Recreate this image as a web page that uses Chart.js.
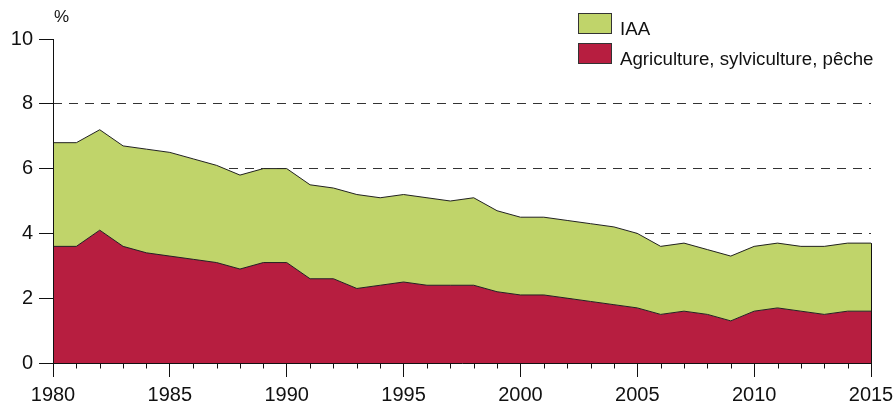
<!DOCTYPE html>
<html>
<head>
<meta charset="utf-8">
<title>Agriculture et IAA</title>
<script src="https://cdn.jsdelivr.net/npm/chart.js@4.4.1/dist/chart.umd.min.js"></script>
<style>
  html, body { margin: 0; padding: 0; background: #fff; }
  #wrap { position: relative; width: 896px; height: 408px; font-family: "Liberation Sans", Arial, sans-serif; color: #111; }
  #unit { position: absolute; left: 54px; top: 7px; font-size: 17px; }
  .leg { position: absolute; left: 578px; font-size: 18.7px; white-space: nowrap; }
  .leg span.box { position: absolute; left: 0; top: 0; width: 34px; height: 21px; border: 1px solid #333; box-sizing: border-box; }
  .leg span.txt { position: absolute; left: 42px; top: 5px; }
</style>
</head>
<body>
<div id="wrap">
  <canvas id="chart" width="896" height="408"></canvas>
  <div id="unit">%</div>
  <div class="leg" style="top:13px"><span class="box" style="background:#c0d46a"></span><span class="txt">IAA</span></div>
  <div class="leg" style="top:43px"><span class="box" style="background:#b71e40"></span><span class="txt">Agriculture, sylviculture, pêche</span></div>
</div>
<script>
const years = [1980, 1981, 1982, 1983, 1984, 1985, 1986, 1987, 1988, 1989,
               1990, 1991, 1992, 1993, 1994, 1995, 1996, 1997, 1998, 1999,
               2000, 2001, 2002, 2003, 2004, 2005, 2006, 2007, 2008, 2009,
               2010, 2011, 2012, 2013, 2014, 2015];

// Agriculture, sylviculture, pêche (bottom layer)
const agriculture = [3.6, 3.6, 4.1, 3.6, 3.4, 3.3, 3.2, 3.1, 2.9, 3.1,
                     3.1, 2.6, 2.6, 2.3, 2.4, 2.5, 2.4, 2.4, 2.4, 2.2,
                     2.1, 2.1, 2.0, 1.9, 1.8, 1.7, 1.5, 1.6, 1.5, 1.3,
                     1.6, 1.7, 1.6, 1.5, 1.6, 1.6];

// IAA (stacked on top)
const iaa = [3.2, 3.2, 3.1, 3.1, 3.2, 3.2, 3.1, 3.0, 2.9, 2.9,
             2.9, 2.9, 2.8, 2.9, 2.7, 2.7, 2.7, 2.6, 2.7, 2.5,
             2.4, 2.4, 2.4, 2.4, 2.4, 2.3, 2.1, 2.1, 2.0, 2.0,
             2.0, 2.0, 2.0, 2.1, 2.1, 2.1];

const xTickLabels = ['1980', '1985', '1990', '1995', '2000', '2005', '2010', '2015'];
const yTicks = [0, 2, 4, 6, 8, 10];

const fontFamily = '"Liberation Sans", Arial, sans-serif';

// minor year ticks, axis lines and the closing edge of the stack
const axisMarks = {
  id: 'axisMarks',
  afterDatasetsDraw(chart) {
    const { ctx, scales: { x, y } } = chart;
    const bottom = Math.round(y.bottom) + 0.5;
    const left = Math.round(x.left) + 0.5;
    ctx.save();
    ctx.strokeStyle = '#111';
    ctx.lineWidth = 1;
    ctx.beginPath();
    years.forEach((yr, i) => {
      if (xTickLabels.includes(String(yr))) return;
      const px = Math.round(x.getPixelForValue(i)) + 0.5;
      ctx.moveTo(px, bottom);
      ctx.lineTo(px, bottom + 5);
    });
    const last = years.length - 1;
    const lx = Math.round(x.getPixelForValue(last)) + 0.5;
    ctx.moveTo(lx, bottom);
    ctx.lineTo(lx, y.getPixelForValue(agriculture[last] + iaa[last]));
    ctx.moveTo(x.left, bottom);
    ctx.lineTo(x.right + 0.5, bottom);
    ctx.moveTo(left, y.top);
    ctx.lineTo(left, bottom);
    ctx.stroke();
    ctx.restore();
  }
};

new Chart(document.getElementById('chart'), {
  type: 'line',
  data: {
    labels: years.map(String),
    datasets: [{
      label: 'Agriculture, sylviculture, pêche',
      data: agriculture,
      backgroundColor: '#b71e40',
      borderColor: '#222',
      borderWidth: 1,
      fill: 'origin',
      pointRadius: 0,
      tension: 0
    }, {
      label: 'IAA',
      data: iaa,
      backgroundColor: '#c0d46a',
      borderColor: '#222',
      borderWidth: 1,
      fill: '-1',
      pointRadius: 0,
      tension: 0
    }]
  },
  options: {
    responsive: false,
    animation: false,
    layout: { padding: { top: 39, right: 25, left: 0, bottom: 0 } },
    plugins: {
      legend: { display: false },
      tooltip: { enabled: false }
    },
    scales: {
      x: {
        offset: false,
        afterFit: (scale) => {
          scale.height = 45;
          scale.paddingLeft = 0;
          scale.paddingRight = 0;
        },
        grid: {
          drawOnChartArea: false,
          tickLength: 14,
          tickColor: (c) => xTickLabels.includes(years[c.index] + '') ? '#111' : 'rgba(0,0,0,0)'
        },
        border: { display: false },
        ticks: {
          autoSkip: false,
          maxRotation: 0,
          padding: 6,
          color: '#111',
          font: { family: fontFamily, size: 20 },
          callback: function (v, i) {
            const lbl = String(years[i]);
            return xTickLabels.includes(lbl) ? lbl : '';
          }
        }
      },
      y: {
        stacked: true,
        min: yTicks[0],
        max: yTicks[yTicks.length - 1],
        afterFit: (scale) => { scale.width = 53; },
        afterBuildTicks: (scale) => { scale.ticks = yTicks.map(v => ({ value: v })); },
        grid: {
          color: (c) => (c.tick && (c.tick.value === 0 || c.tick.value === 10)) ? 'rgba(0,0,0,0)' : '#333',
          lineWidth: 1,
          tickLength: 14,
          tickColor: '#111',
          tickBorderDash: []
        },
        border: { display: false, dash: [9, 7] },
        ticks: {
          padding: 6,
          color: '#111',
          font: { family: fontFamily, size: 20 }
        }
      }
    }
  },
  plugins: [axisMarks]
});
</script>
</body>
</html>
